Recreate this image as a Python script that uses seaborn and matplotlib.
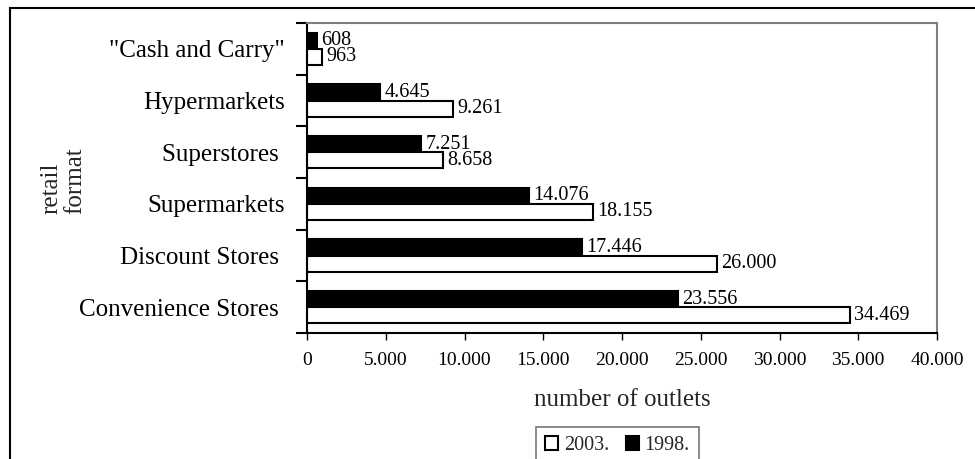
import matplotlib
matplotlib.use("Agg")
import matplotlib.pyplot as plt
from matplotlib.patches import Patch, Rectangle
from matplotlib.ticker import FuncFormatter, FixedLocator
import seaborn as sns
import pandas as pd

# Number of retail outlets by format
formats = ['"Cash and Carry"', "Hypermarkets", "Superstores ", "Supermarkets",
           "Discount Stores ", "Convenience Stores "]
outlets_1998 = [608, 4645, 7251, 14076, 17446, 23556]
outlets_2003 = [963, 9261, 8658, 18155, 26000, 34469]
years = ["1998.", "2003."]
x_ticks = [0, 5000, 10000, 15000, 20000, 25000, 30000, 35000, 40000]

sns.set_theme(style="white")
plt.rcParams["font.family"] = ["Liberation Serif", "DejaVu Serif"]


def dotted(v):
    return f"{int(v):,}".replace(",", ".")


df = pd.DataFrame({
    "format": formats * 2,
    "year": [years[0]] * len(formats) + [years[1]] * len(formats),
    "outlets": outlets_1998 + outlets_2003,
})

fig = plt.figure(figsize=(9.75, 4.59), dpi=100)
ax = fig.add_axes([307 / 975, 1 - 333 / 459, 630 / 975, 310 / 459])

sns.barplot(data=df, y="format", x="outlets", hue="year", hue_order=years,
            order=formats, orient="h", palette={"1998.": "black", "2003.": "white"},
            edgecolor="black", linewidth=1.5, width=0.62, gap=0, ax=ax,
            legend=False, errorbar=None, saturation=1)

for cont, vals in zip(ax.containers, [outlets_1998, outlets_2003]):
    ax.bar_label(cont, labels=[dotted(v) for v in vals], padding=3,
                 fontsize=14.5, color="black")

ax.set_xlim(0, 40000)
ax.set_ylim(len(formats) - 0.5, -0.5)
ax.xaxis.set_major_locator(FixedLocator(x_ticks))
ax.xaxis.set_major_formatter(FuncFormatter(lambda v, p: dotted(v)))
ax.tick_params(axis="x", direction="out", length=5, width=1, colors="black",
               labelsize=14, pad=9, bottom=True)

# category names without ticks; boundary ticks as minor ticks
ax.set_yticks(range(len(formats)))
ax.set_yticklabels(formats)
ax.yaxis.set_minor_locator(FixedLocator([i - 0.5 for i in range(len(formats) + 1)]))
ax.tick_params(axis="y", which="major", length=0, labelsize=18, pad=16,
               colors="black")
ax.tick_params(axis="y", which="minor", direction="out", length=8, width=1.5,
               color="black", left=True)

for side in ("left", "bottom"):
    ax.spines[side].set_color("black")
    ax.spines[side].set_linewidth(1.5)
for side in ("top", "right"):
    ax.spines[side].set_color("#808080")
    ax.spines[side].set_linewidth(1.5)

ax.set_xlabel("number of outlets", fontsize=18, labelpad=14)
ax.set_ylabel("retail\nformat", fontsize=18, multialignment="left",
              linespacing=1.1)
ax.yaxis.set_label_coords(-0.35, 0.49)

handles = [Patch(facecolor="white", edgecolor="black", linewidth=1.5, label="2003."),
           Patch(facecolor="black", edgecolor="black", linewidth=1.5, label="1998.")]
leg = fig.legend(handles=handles, loc="upper left",
                 bbox_to_anchor=(536 / 975, 1 - 427 / 459), borderaxespad=0,
                 ncol=2, fontsize=14.5, frameon=True, fancybox=False,
                 handlelength=0.65, handleheight=0.65, handletextpad=0.3,
                 columnspacing=0.8, borderpad=0.45)
leg.get_frame().set_edgecolor("#555555")
leg.get_frame().set_linewidth(1.2)

# outer border of the figure panel
fig.add_artist(Rectangle((10 / 975, -0.2), 1.2, 1.2 - 8 / 459,
                         transform=fig.transFigure, fill=False,
                         edgecolor="black", linewidth=1.5, clip_on=False))

fig.savefig("out.png", dpi=100)
